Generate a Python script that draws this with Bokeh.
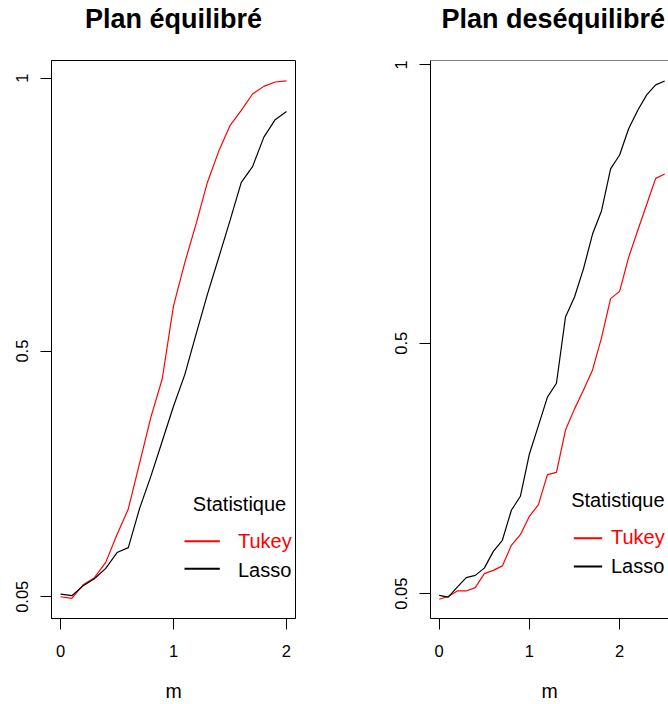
from bokeh.plotting import figure
from bokeh.layouts import row
from bokeh.models import FixedTicker, Label, Span, Title
from bokeh.embed import file_html
from bokeh.resources import INLINE

# ---------------- data ----------------
m_eq = [0.0, 0.1, 0.2, 0.3, 0.4, 0.5, 0.6, 0.7, 0.8, 0.9, 1.0,
        1.1, 1.2, 1.3, 1.4, 1.5, 1.6, 1.7, 1.8, 1.9, 2.0]
tukey_eq = [0.050, 0.047, 0.072, 0.085, 0.113, 0.164, 0.211, 0.295, 0.379, 0.449, 0.583,
            0.662, 0.733, 0.809, 0.866, 0.913, 0.941, 0.971, 0.985, 0.993, 0.995]
lasso_eq = [0.055, 0.052, 0.070, 0.083, 0.102, 0.131, 0.140, 0.212, 0.271, 0.335, 0.399,
            0.457, 0.531, 0.604, 0.671, 0.739, 0.809, 0.838, 0.892, 0.924, 0.939]

m_deseq = [0.0, 0.1, 0.2, 0.3, 0.4, 0.5, 0.6, 0.7, 0.8, 0.9, 1.0, 1.1, 1.2,
           1.3, 1.4, 1.5, 1.6, 1.7, 1.8, 1.9, 2.0, 2.1, 2.2, 2.3, 2.4, 2.5]
tukey_deseq = [0.040, 0.045, 0.055, 0.055, 0.061, 0.086, 0.092, 0.100, 0.137, 0.156, 0.189,
               0.210, 0.264, 0.268, 0.344, 0.382, 0.416, 0.452, 0.510, 0.580, 0.593,
               0.654, 0.702, 0.749, 0.796, 0.804]
lasso_deseq = [0.047, 0.044, 0.062, 0.079, 0.083, 0.096, 0.126, 0.146, 0.200, 0.225, 0.301,
               0.352, 0.403, 0.428, 0.547, 0.583, 0.634, 0.696, 0.738, 0.813, 0.838,
               0.885, 0.918, 0.946, 0.964, 0.971]

titles = ["Plan équilibré", "Plan deséquilibré"]
series_names = ["Tukey", "Lasso"]
series_colors = ["#FF0000", "#000000"]
legend_title = "Statistique"
x_label = "m"
x_ticks = [0, 1, 2]
y_ticks = [0.05, 0.5, 1]

FONT = "Liberation Sans"
TICK_FS = "16.5px"
LAB_FS = "19.5px"
LEG_FS = "20px"
TITLE_FS = "27px"

PAGE = 0          # observed page offset
TOP = 60          # border above frame
FRAME_H = 558
BOTTOM = 86
HEIGHT = TOP + FRAME_H + BOTTOM
TXT_SHIFT = 6     # baseline correction for Label text


def make_panel(title, m, ys, x_range, y_range, fig_left, border_left, frame_w,
               border_right, leg, full_box, title_align, title_offset):
    width = border_left + frame_w + border_right
    p = figure(width=width, height=HEIGHT, x_range=x_range, y_range=y_range,
               output_backend="svg", toolbar_location=None,
               min_border_left=border_left, min_border_right=border_right,
               min_border_top=TOP, min_border_bottom=BOTTOM)
    p.grid.visible = False
    p.background_fill_color = "white"
    p.border_fill_color = "white"
    if full_box:
        p.outline_line_color = "black"
        p.outline_line_width = 1
    else:
        p.outline_line_color = None
        p.add_layout(Span(location=y_range[1], dimension="width",
                          line_color="black", line_width=1))

    # title: spacer next to frame, real title above it
    p.title.text = ""
    p.add_layout(Title(text=" ", text_font=FONT, text_font_size="10px",
                       standoff=14), "above")
    p.add_layout(Title(text=title, text_font=FONT, text_font_size=TITLE_FS,
                       text_font_style="bold", align=title_align, offset=title_offset,
                       text_color="black", standoff=0), "above")

    fl = PAGE + fig_left + border_left   # frame left (page px)
    ft = PAGE + TOP                      # frame top (page px)

    def dx(px):
        return x_range[0] + (px - fl) / frame_w * (x_range[1] - x_range[0])

    def dy(py):
        return y_range[1] - (py - ft) / FRAME_H * (y_range[1] - y_range[0])

    for vals, col in zip(ys, series_colors):
        p.line(m, vals, line_color=col, line_width=1.2)

    for ax in (p.xaxis[0], p.yaxis[0]):
        ax.axis_line_color = "black"
        ax.axis_line_width = 1
        ax.major_tick_line_color = "black"
        ax.major_tick_out = 11
        ax.major_tick_in = 0
        ax.minor_tick_line_color = None
        ax.major_label_text_font = FONT
        ax.major_label_text_font_size = TICK_FS
        ax.major_label_text_color = "black"
    p.xaxis[0].ticker = FixedTicker(ticks=x_ticks)
    p.yaxis[0].ticker = FixedTicker(ticks=y_ticks)
    p.xaxis[0].major_label_standoff = 15
    p.yaxis[0].major_label_standoff = 12
    p.yaxis[0].major_label_orientation = "vertical"
    p.xaxis[0].axis_label = x_label
    p.xaxis[0].axis_label_text_font = FONT
    p.xaxis[0].axis_label_text_font_size = LAB_FS
    p.xaxis[0].axis_label_text_font_style = "normal"
    p.xaxis[0].axis_label_text_color = "black"
    p.xaxis[0].axis_label_standoff = 20

    # legend
    (tx, tby), (lx0, lx1), line_ys, label_x, label_bys = leg
    p.add_layout(Label(x=dx(tx), y=dy(tby - TXT_SHIFT), text=legend_title, text_font=FONT,
                       text_font_size=LEG_FS, text_align="left",
                       text_baseline="alphabetic", text_color="black"))
    for name, col, ly, by in zip(series_names, series_colors, line_ys, label_bys):
        p.segment(x0=[dx(lx0)], y0=[dy(ly)], x1=[dx(lx1)], y1=[dy(ly)],
                  line_color=col, line_width=2)
        p.add_layout(Label(x=dx(label_x), y=dy(by - TXT_SHIFT), text=name, text_font=FONT,
                           text_font_size=LEG_FS, text_align="left",
                           text_baseline="alphabetic", text_color=col))
    return p


left = make_panel(titles[0], m_eq, [tukey_eq, lasso_eq],
                  (-0.08, 2.08), (0.0102, 1.0324),
                  fig_left=0, border_left=51, frame_w=244, border_right=92,
                  leg=((192.3, 509.3), (184, 219.3), (540.7, 568.3), 237.5, (546.7, 575.0)),
                  full_box=True, title_align="center", title_offset=0)

right = make_panel(titles[1], m_deseq, [tukey_deseq, lasso_deseq],
                   (-0.0965, 2.542), (0.0055, 1.0077),
                   fig_left=387, border_left=43, frame_w=238, border_right=0,
                   leg=((570.7, 505.0), (573.3, 601.7), (537.7, 566.0), 610.5, (542.7, 571.7)),
                   full_box=False, title_align="left", title_offset=11)

layout = row(left, right)
open("out.html", "w").write(file_html(layout, INLINE))
